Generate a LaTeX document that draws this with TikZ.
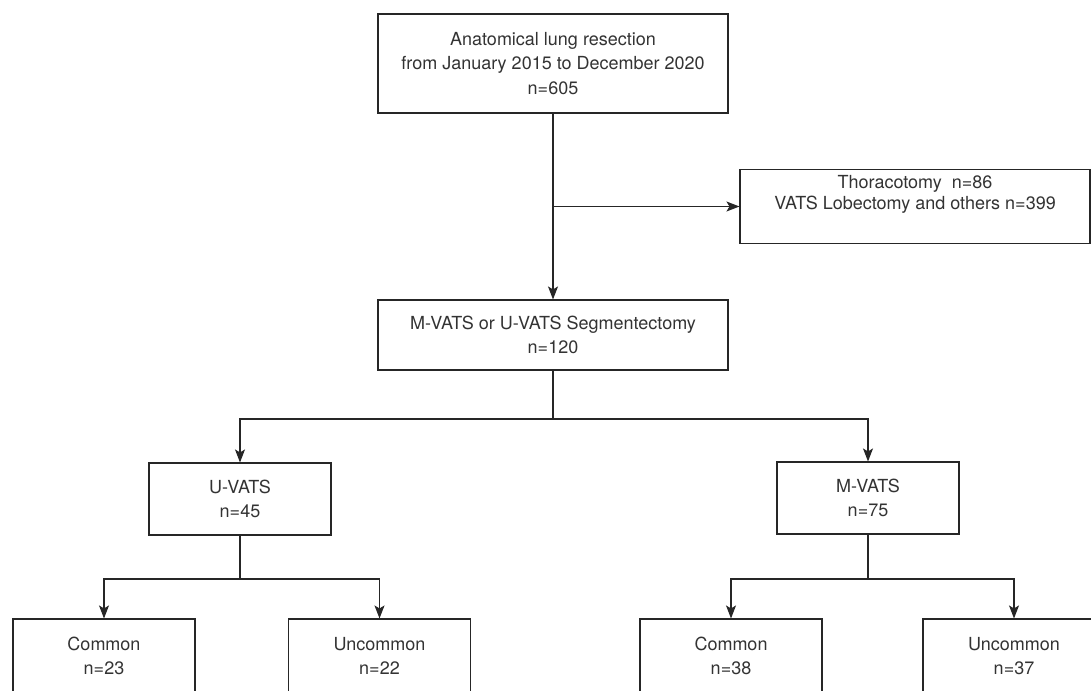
\documentclass[tikz,border=0pt]{standalone}
\usepackage{fontspec}
\setmainfont{TeX Gyre Heros}
\usepackage{xcolor}
\usetikzlibrary{arrows.meta,positioning}

\begin{document}
\begin{tikzpicture}[x=1pt, y=-1pt,
  fbox/.style={draw=black!85, line width=1.1pt, align=center, inner sep=0pt,
               font=\fontsize{18}{24.5}\selectfont, text=black!80},
  wbox/.style={fbox, minimum width=350pt, minimum height=70pt},
  sbox/.style={fbox, minimum width=182pt, minimum height=72pt},
  arrow/.style={-{Stealth[length=13pt, width=10pt, inset=3pt]}, line width=1.1pt, draw=black!85}
]
\useasboundingbox (0,0) rectangle (1091,690);

\node[wbox, minimum height=99pt] (start) at (553,63.5) {Anatomical lung resection\\from January 2015 to December 2020\\n=605};
\node[fbox, minimum width=350pt, minimum height=74pt, font=\fontsize{18}{21}\selectfont] (excl) at (915,206.5)
  {\begin{tabular}{@{}c@{}}Thoracotomy\ \ n=86\\VATS Lobectomy and others n=399\\[23pt]\end{tabular}};
\node[wbox] (seg) at (553,335) {M-VATS or U-VATS Segmentectomy\\n=120};

\node[sbox] (uvats) at (240,499) {U-VATS\\n=45};
\node[sbox] (mvats) at (868,498) {M-VATS\\n=75};

\node[sbox, minimum height=74pt] (ucom) at (104,656) {Common\\n=23};
\node[sbox, minimum height=74pt] (uunc) at (379.5,656) {Uncommon\\n=22};
\node[sbox, minimum height=74pt] (mcom) at (731,656) {Common\\n=38};
\node[sbox, minimum height=74pt] (munc) at (1014,656) {Uncommon\\n=37};

\coordinate (split1) at (553,419);
\coordinate (split2) at (240,579);
\coordinate (split3) at (868,579);

\draw[arrow] (start) -- (seg);
\draw[arrow] (start.south |- excl.west) -- (excl.west);

\draw[arrow, -] (seg) -- (split1);
\draw[arrow] (split1) -| (uvats.north);
\draw[arrow] (split1) -| (mvats.north);

\draw[arrow, -] (uvats) -- (split2);
\draw[arrow] (split2) -| (ucom.north);
\draw[arrow] (split2) -| (uunc.north);

\draw[arrow, -] (mvats) -- (split3);
\draw[arrow] (split3) -| (mcom.north);
\draw[arrow] (split3) -| (munc.north);
\end{tikzpicture}
\end{document}
